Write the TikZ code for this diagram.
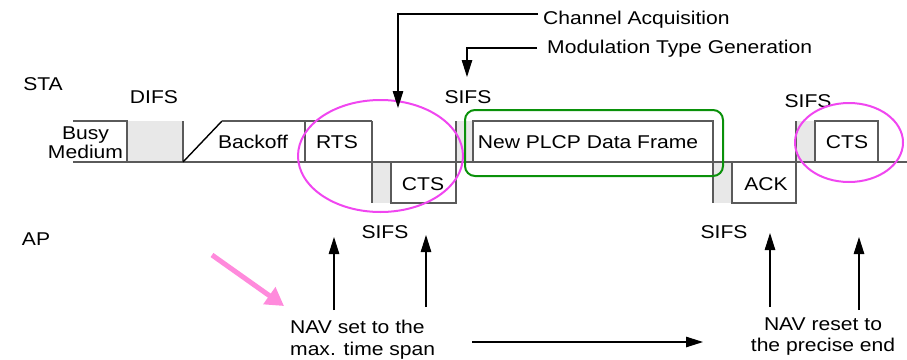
\documentclass[tikz,border=0pt]{standalone}
\usepackage{fontspec}
\setmainfont{Liberation Sans}[FakeStretch=1.14]
\usetikzlibrary{arrows.meta}

\definecolor{slotgray}{RGB}{232,232,232}
\definecolor{frameline}{RGB}{90,90,90}
\definecolor{hlmagenta}{RGB}{240,70,240}
\definecolor{hlgreen}{RGB}{10,145,10}
\definecolor{hlpink}{RGB}{255,138,220}

\tikzset{
  lbl/.style={inner sep=0pt, font=\fontsize{18.5}{22}\selectfont},
  frame/.style={draw=frameline, line width=1.1pt},
  gap/.style={fill=slotgray, draw=none},
  conn/.style={draw=black, line width=1.1pt, -{Triangle[length=17pt,width=10.5pt]}},
  hlring/.style={draw=hlmagenta, line width=2pt},
  hlbox/.style={draw=hlgreen, line width=2pt, rounded corners=10pt},
  pinkarrow/.style={draw=hlpink, line width=5pt, -{Triangle[length=18pt,width=20pt]}}
}

\begin{document}
\begin{tikzpicture}[x=1pt, y=-1pt]
  \path[use as bounding box] (0,0) rectangle (907,359);

  % inter-frame spaces (shaded slots)
  \path[gap] (127,121) rectangle (183,162);
  \path[gap] (372,162) rectangle (391,203);
  \path[gap] (456,121) rectangle (473,162);
  \path[gap] (713,162) rectangle (732,203);
  \path[gap] (796,121) rectangle (815,162);

  % time line
  \draw[frame] (73,162) -- (907,162);

  % STA / AP frames
  \draw[frame] (73,121) -- (127,121) -- (127,162);
  \draw[frame] (183,121) -- (183,162);
  \draw[frame, draw=black, line width=1.4pt] (183,162) -- (222,121);
  \draw[frame] (222,121) -- (372,121);
  \draw[frame] (305,121) -- (305,162);
  \draw[frame] (372,121) -- (372,203);
  \draw[frame] (391,162) -- (391,203) -- (456,203) -- (456,121);
  \draw[frame] (473,162) -- (473,121) -- (713,121) -- (713,203);
  \draw[frame] (732,162) -- (732,203) -- (796,203) -- (796,121);
  \draw[frame] (815,162) -- (815,121) -- (878,121) -- (878,162);

  % frame labels
  \node[lbl, anchor=north, align=center, font=\fontsize{18.5}{17}\selectfont]
    (busy) at (85.5,127) {Busy\\Medium};
  \node[lbl, anchor=base] (backoff) at (253,148) {Backoff};
  \node[lbl, anchor=base] (rts)     at (337,148) {RTS};
  \node[lbl, anchor=base] (cts1)    at (423,190) {CTS};
  \node[lbl, anchor=base] (data)    at (588,148) {New PLCP Data Frame};
  \node[lbl, anchor=base] (ack)     at (766,190) {ACK};
  \node[lbl, anchor=base] (cts2)    at (847,148) {CTS};

  % station and interval labels
  \node[lbl, anchor=base] (sta)   at (43,90)   {STA};
  \node[lbl, anchor=base] (ap)    at (36,245)  {AP};
  \node[lbl, anchor=base] (difs)  at (154,103) {DIFS};
  \node[lbl, anchor=base] (sifsA) at (468,103) {SIFS};
  \node[lbl, anchor=base] (sifsB) at (808,107) {SIFS};
  \node[lbl, anchor=base] (sifsC) at (385,238) {SIFS};
  \node[lbl, anchor=base] (sifsD) at (724,238) {SIFS};

  % highlights
  \draw[hlring] (380.5,156) ellipse [x radius=82.5pt, y radius=56pt];
  \draw[hlring] (849,142.5) ellipse [x radius=54pt, y radius=39.5pt];
  \draw[hlbox] (465,110) rectangle (723,176);

  % annotations from above
  \node[lbl, anchor=base west] (chacq) at (543,24) {Channel Acquisition};
  \node[lbl, anchor=base west] (modgen) at (547,53) {Modulation Type Generation};
  \coordinate (chacqBend) at (398,14);
  \coordinate (chacqTip)  at (398,108);
  \coordinate (modBend)   at (467,48);
  \coordinate (modTip)    at (467,77);
  \draw[conn] ([xshift=-5pt]chacq.west |- chacqBend) -- (chacqBend) -- (chacqTip);
  \draw[conn] ([xshift=-10pt]modgen.west |- modBend) -- (modBend) -- (modTip);

  % NAV annotations below
  \node[lbl, anchor=north west, align=left] (navset) at (290,320)
    {NAV set to the\\max. time span};
  \node[lbl, anchor=north, align=center, font=\fontsize{18.5}{20.5}\selectfont]
    (navreset) at (823,318) {NAV reset to\\the precise end};

  \coordinate (upA0) at (334,310); \coordinate (upA1) at (334,237);
  \coordinate (upB0) at (426,307); \coordinate (upB1) at (426,235);
  \coordinate (upC0) at (770,307); \coordinate (upC1) at (770,233);
  \coordinate (upD0) at (859,310); \coordinate (upD1) at (859,237);
  \draw[conn] (upA0) -- (upA1);
  \draw[conn] (upB0) -- (upB1);
  \draw[conn] (upC0) -- (upC1);
  \draw[conn] (upD0) -- (upD1);

  \coordinate (spanEnd) at (703,342);
  \draw[conn] (472,342) -- (spanEnd);

  % pointer to the NAV note
  \coordinate (pinkStart) at (212,255);
  \coordinate (pinkTip)   at (284,306);
  \draw[pinkarrow] (pinkStart) -- (pinkTip);
\end{tikzpicture}
\end{document}
